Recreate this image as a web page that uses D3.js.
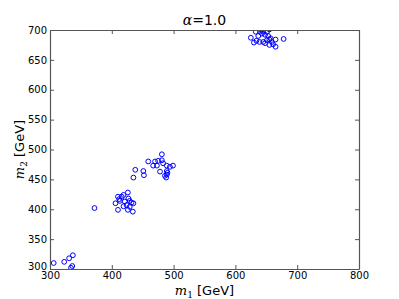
<!DOCTYPE html>
<html lang="en">
<head>
<meta charset="UTF-8">
<title>alpha = 1.0</title>
<script src="https://cdn.jsdelivr.net/npm/d3@7"></script>
<style>
  body { margin: 0; background: #fff; }
  text { font-family: "DejaVu Sans", sans-serif; }
</style>
</head>
<body>
<svg id="chart" width="399" height="299"></svg>
<script>
// data (GeV)
const m1 = [
  306, 323, 331, 337, 336, 334,
  372, 410, 412, 416, 419, 426, 427, 429, 432, 435, 424, 419, 406, 410, 426, 434, 421, 429, 413,
  481, 459, 470, 475, 481, 483, 467, 473, 489, 494, 499, 438, 451, 452, 478, 489, 486, 489, 488, 435, 490,
  625, 630, 633, 637, 640, 643, 645, 648, 651, 634, 639, 645, 648, 653, 655, 657, 659, 661, 665, 665, 655, 678, 651, 642, 655
];
const m2 = [
  310, 312, 318, 323, 305, 302,
  402, 421, 417, 421, 424, 428, 418, 414, 411, 410, 407, 405, 410, 399, 399, 396, 413, 404, 414,
  492, 480, 480, 481, 482, 477, 473, 473, 473, 471, 473, 466, 464, 457, 463, 464, 456, 458, 453, 453, 461,
  687, 679, 697, 690, 697, 694, 697, 692, 697, 682, 680, 680, 678, 690, 684, 686, 680, 676, 684, 672, 675, 685, 683, 700, 701
];
const xTicks = [300, 400, 500, 600, 700, 800];
const yTicks = [300, 350, 400, 450, 500, 550, 600, 650, 700];

const svg = d3.select("#chart");
const margin = { top: 30, right: 40, bottom: 30, left: 50 };
const W = 399, H = 299;
const x = d3.scaleLinear().domain([300, 800]).range([margin.left, W - margin.right]);
const y = d3.scaleLinear().domain([300, 700]).range([H - margin.bottom, margin.top]);

svg.append("clipPath").attr("id", "clip")
  .append("rect")
  .attr("x", margin.left).attr("y", margin.top)
  .attr("width", x(800) - x(300)).attr("height", y(300) - y(700));

// points
svg.append("g").attr("clip-path", "url(#clip)")
  .selectAll("circle")
  .data(m1.map((d, i) => [d, m2[i]]))
  .join("circle")
  .attr("cx", d => x(d[0]))
  .attr("cy", d => y(d[1]))
  .attr("r", 2.4)
  .attr("fill", "none")
  .attr("stroke", "#0000ff")
  .attr("stroke-width", 1);

// axes, ticks pointing inward
const tickLen = 4;
const gx = svg.append("g").attr("transform", `translate(0,${y(300)})`)
  .call(d3.axisBottom(x).tickValues(xTicks).tickSizeInner(-tickLen).tickSizeOuter(0).tickPadding(3));
const gxTop = svg.append("g").attr("transform", `translate(0,${y(700)})`)
  .call(d3.axisTop(x).tickValues(xTicks).tickSizeInner(-tickLen).tickSizeOuter(0).tickFormat(""));
const gy = svg.append("g").attr("transform", `translate(${x(300)},0)`)
  .call(d3.axisLeft(y).tickValues(yTicks).tickSizeInner(-tickLen).tickSizeOuter(0).tickPadding(3));
const gyRight = svg.append("g").attr("transform", `translate(${x(800)},0)`)
  .call(d3.axisRight(y).tickValues(yTicks).tickSizeInner(-tickLen).tickSizeOuter(0).tickFormat(""));

[gx, gxTop, gy, gyRight].forEach(g => {
  g.select(".domain").attr("stroke", "#555").attr("stroke-width", 1.2);
  g.selectAll(".tick line").attr("stroke", "#555");
  g.selectAll(".tick text").attr("font-size", 10).attr("fill", "#000")
    .attr("font-family", "DejaVu Sans, sans-serif");
});
// keep the two "300" labels in the corner apart
gy.selectAll(".tick text").filter(d => d === 300).attr("dy", "0.05em");

// title
svg.append("text")
  .attr("x", (x(300) + x(800)) / 2).attr("y", 25)
  .attr("text-anchor", "middle").attr("font-size", 14)
  .html('<tspan font-family="DejaVu Serif, serif" font-style="italic">α</tspan>=1.0');

// x label
svg.append("text")
  .attr("x", (x(300) + x(800)) / 2).attr("y", 295)
  .attr("text-anchor", "middle").attr("font-size", 13)
  .html('<tspan font-family="DejaVu Serif, serif" font-style="italic">m</tspan><tspan font-family="DejaVu Serif, serif" font-size="9" dy="3">1</tspan><tspan dy="-3">  [GeV]</tspan>');

// y label
svg.append("text")
  .attr("transform", `translate(24,${(y(300) + y(700)) / 2}) rotate(-90)`)
  .attr("text-anchor", "middle").attr("font-size", 13)
  .html('<tspan font-family="DejaVu Serif, serif" font-style="italic">m</tspan><tspan font-family="DejaVu Serif, serif" font-size="9" dy="3">2</tspan><tspan dy="-3">  [GeV]</tspan>');
</script>
</body>
</html>
